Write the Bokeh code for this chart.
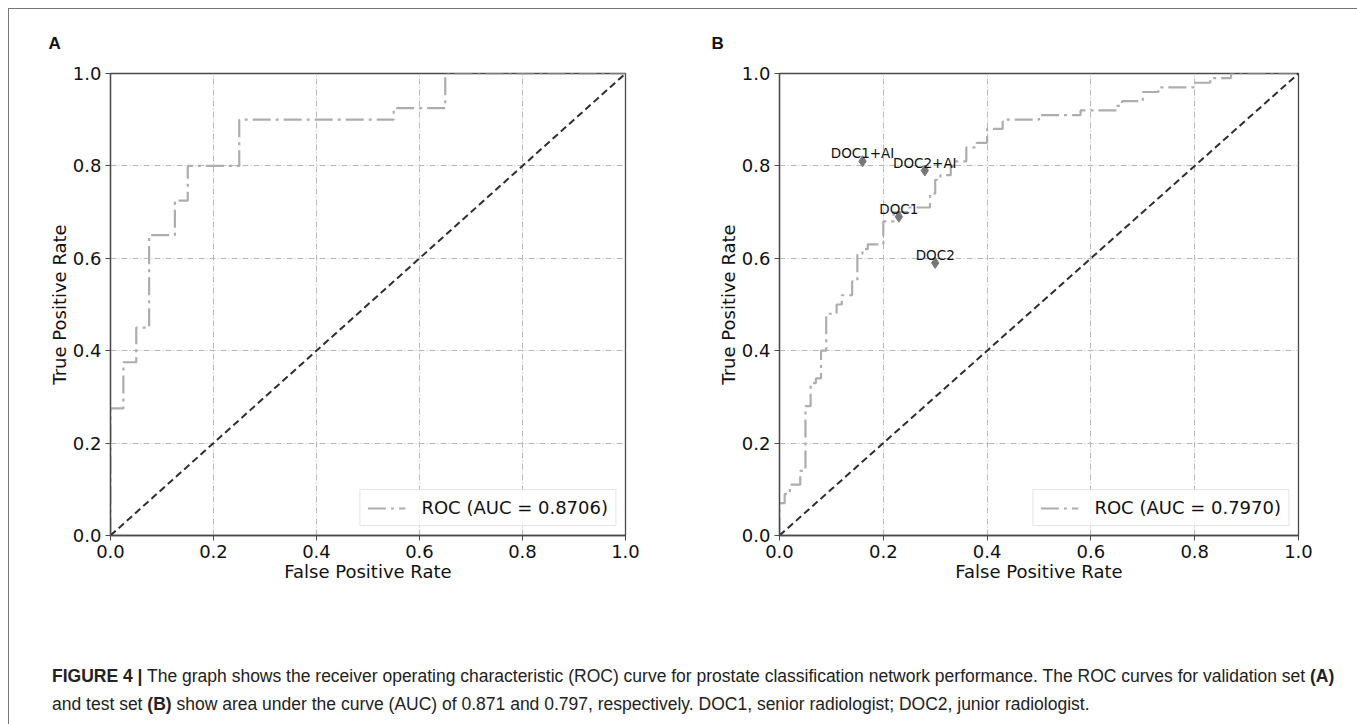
from bokeh.plotting import figure
from bokeh.models import Range1d, FixedTicker, Div, Legend, LegendItem, PrintfTickFormatter
from bokeh.layouts import column, row
from bokeh.embed import file_html
from bokeh.resources import INLINE
from bokeh.core.properties import value

# ---------------- data ----------------
ticks = [0.0, 0.2, 0.4, 0.6, 0.8, 1.0]

# Panel A (validation set) ROC corner points
a_fpr = [0.0, 0.0, 0.025, 0.025, 0.05, 0.05, 0.075, 0.075, 0.125, 0.125, 0.15, 0.15,
         0.25, 0.25, 0.55, 0.55, 0.65, 0.65, 1.0]
a_tpr = [0.0, 0.275, 0.275, 0.375, 0.375, 0.45, 0.45, 0.65, 0.65, 0.725, 0.725, 0.8,
         0.8, 0.9, 0.9, 0.925, 0.925, 1.0, 1.0]
a_label = "ROC (AUC = 0.8706)"

# Panel B (test set) ROC: thresholds where the curve rises (fpr) and the new tpr
b_step_fpr = [0.00, 0.01, 0.02, 0.04, 0.05, 0.06, 0.07, 0.08, 0.09, 0.11, 0.12, 0.14,
              0.15, 0.16, 0.17, 0.20, 0.22, 0.25, 0.29, 0.30, 0.31, 0.33, 0.34, 0.36,
              0.38, 0.40, 0.43, 0.50, 0.58, 0.65, 0.66, 0.70, 0.73, 0.80, 0.83, 0.87]
b_step_tpr = [0.07, 0.09, 0.11, 0.14, 0.28, 0.33, 0.34, 0.40, 0.48, 0.50, 0.52, 0.55,
              0.61, 0.62, 0.63, 0.68, 0.70, 0.71, 0.74, 0.77, 0.78, 0.80, 0.81, 0.84,
              0.85, 0.88, 0.90, 0.91, 0.92, 0.93, 0.94, 0.96, 0.97, 0.98, 0.99, 1.00]
b_label = "ROC (AUC = 0.7970)"

doc_names = ["DOC1+AI", "DOC2+AI", "DOC1", "DOC2"]
doc_fpr = [0.16, 0.28, 0.23, 0.30]
doc_tpr = [0.81, 0.79, 0.69, 0.59]

chance = [0.0, 1.0]

caption_html = (
    "<b>FIGURE 4 |</b> The graph shows the receiver operating characteristic (ROC) curve for "
    "prostate classification network performance. The ROC curves for validation set <b>(A)</b><br>"
    "and test set <b>(B)</b> show area under the curve (AUC) of 0.871 and 0.797, respectively. "
    "DOC1, senior radiologist; DOC2, junior radiologist."
)

# build B corner points from the steps
b_fpr = [0.0]
b_tpr = [0.0]
for fx, ty in zip(b_step_fpr, b_step_tpr):
    b_fpr += [fx, fx]
    b_tpr += [b_tpr[-1], ty]
b_fpr.append(1.0)
b_tpr.append(b_tpr[-1])

FONT = "DejaVu Sans"
ROC_COLOR = "#adadad"
SPINE = "#4a4a4a"


def make_panel(letter, fpr, tpr, label, width, height, left, right, top, bottom, title_off):
    p = figure(width=width, height=height, x_range=Range1d(0, 1), y_range=Range1d(0, 1),
               output_backend="svg", toolbar_location=None,
               min_border_left=left, min_border_right=right,
               min_border_top=top, min_border_bottom=bottom)
    p.background_fill_color = "white"
    p.border_fill_color = "white"
    p.outline_line_color = SPINE
    p.outline_line_width = 1.3
    p.outline_line_alpha = 1.0

    p.title.text = letter
    p.title.text_font = "Liberation Sans"
    p.title.text_font_style = "bold"
    p.title.text_font_size = "17px"
    p.title.text_color = "#111111"
    p.title.align = "left"
    p.title.offset = title_off
    p.title.standoff = 42

    for ax in (p.xaxis, p.yaxis):
        ax.ticker = FixedTicker(ticks=ticks)
        ax.formatter = PrintfTickFormatter(format="%.1f")
        ax.axis_line_color = SPINE
        ax.axis_line_width = 1.3
        ax.major_tick_in = 0
        ax.major_tick_out = 5
        ax.major_tick_line_color = SPINE
        ax.minor_tick_line_color = None
        ax.major_label_text_font = FONT
        ax.major_label_text_font_size = "18px"
        ax.major_label_text_color = "#111111"
        ax.major_label_standoff = 4
        ax.axis_label_text_font = FONT
        ax.axis_label_text_font_size = "18px"
        ax.axis_label_text_font_style = "normal"
        ax.axis_label_text_color = "#111111"
        ax.axis_label_standoff = 0
    p.xaxis.axis_label = "False Positive Rate"
    p.yaxis.axis_label = "True Positive Rate"

    p.grid.grid_line_color = "#b8b8b8"
    p.grid.grid_line_width = 1
    p.grid.grid_line_dash = "6 2 1 2"

    r = p.line(fpr, tpr, line_color=ROC_COLOR, line_width=2.2, line_dash="18 5 3 5")
    p.line(chance, chance, line_color="#2e2e2e", line_width=2, line_dash="7 4")

    legend = Legend(items=[LegendItem(label=label, renderers=[r])], location="bottom_right")
    legend.margin = 9
    legend.padding = 7
    legend.spacing = 0
    legend.glyph_width = 38
    legend.glyph_height = 20
    legend.label_standoff = 16
    legend.label_text_font = FONT
    legend.label_text_font_size = "18px"
    legend.label_text_color = "#111111"
    legend.border_line_color = "#cccccc"
    legend.border_line_width = 1
    legend.background_fill_alpha = 0.85
    p.add_layout(legend)
    return p


pA = make_panel("A", a_fpr, a_tpr, a_label, 690, 591, 101, 74, 64, 65, -62)
pB = make_panel("B", b_fpr, b_tpr, b_label, 649, 591, 80, 50, 62, 64, -68)

pB.scatter(doc_fpr, doc_tpr, marker="diamond", size=11, color="#777777")
pB.text(doc_fpr, doc_tpr, text=doc_names, text_align="center", text_baseline="alphabetic",
        y_offset=-8, text_font=value(FONT), text_font_size="13.5px", text_color="#111111")

cap = Div(
    text=('<div style="padding:57px 0 0 38px; font-family:\'Liberation Sans\', Arial, sans-serif; '
          'font-size:17.5px; line-height:28px; color:#222; white-space:nowrap;">'
          + caption_html + '</div>'),
    width=1339, height=115)

layout = column(row(pA, pB), cap,
                styles={"border": "1px solid #777777", "margin-left": "8px", "margin-top": "8px"})

open("out.html", "w").write(file_html(layout, INLINE))
